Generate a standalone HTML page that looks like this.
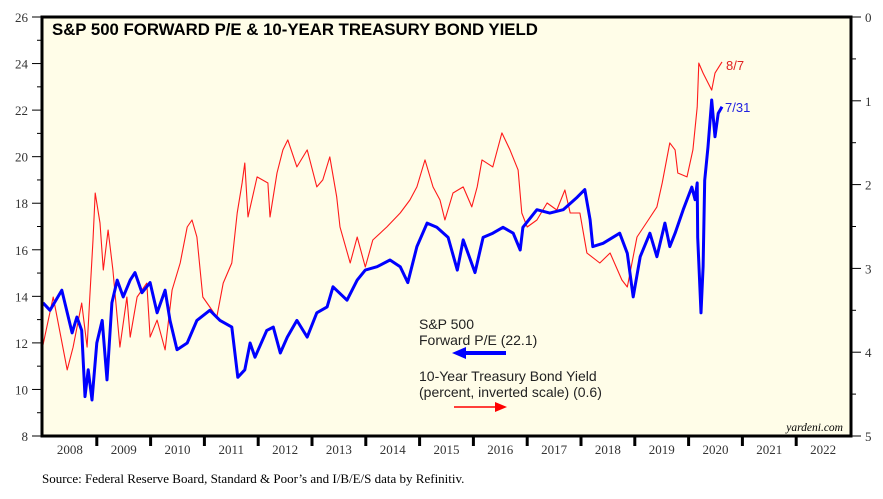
<!DOCTYPE html>
<html><head><meta charset="utf-8">
<style>
body{margin:0;background:#fff;}
svg{display:block;font-family:"Liberation Serif",serif;}
</style></head>
<body>
<svg id="chart" width="883" height="499" viewBox="0 0 883 499" xmlns="http://www.w3.org/2000/svg">
<rect x="42" y="17" width="809" height="419" fill="#fffde8"/>
<g id="axes"></g>
<g id="series"></g>
<rect x="42" y="17" width="809" height="419" fill="none" stroke="#000" stroke-width="3"/>
<text x="52" y="35" font-family="Liberation Sans, sans-serif" font-weight="bold" font-size="16.8">S&amp;P 500 FORWARD P/E &amp; 10-YEAR TREASURY BOND YIELD</text>
<text x="726" y="70" font-family="Liberation Sans, sans-serif" font-size="13" fill="#e02020">8/7</text>
<text x="725" y="112" font-family="Liberation Sans, sans-serif" font-size="13" fill="#2020e0">7/31</text>
<g font-family="Liberation Sans, sans-serif" font-size="14" fill="#222">
<text x="419" y="329">S&amp;P 500</text>
<text x="419" y="345">Forward P/E (22.1)</text>
<line x1="463" y1="353" x2="506" y2="353" stroke="#0000ff" stroke-width="4"/>
<polygon points="452,353 466,347 466,359" fill="#0000ff"/>
<text x="419" y="381">10-Year Treasury Bond Yield</text>
<text x="419" y="397">(percent, inverted scale) (0.6)</text>
<line x1="454" y1="407" x2="497" y2="407" stroke="#ff0000" stroke-width="1.5"/>
<polygon points="507,407 495,402 495,412" fill="#ff0000"/>
</g>
<text x="843" y="431" text-anchor="end" font-style="italic" font-size="11.5">yardeni.com</text>
<text x="42" y="483" font-size="13">Source: Federal Reserve Board, Standard &amp; Poor’s and I/B/E/S data by Refinitiv.</text>
</svg>
<script>
const peDates=[2008.00,2008.19,2008.45,2008.56,2008.72,2008.82,2008.87,2008.93,2008.97,2009.06,2009.12,2009.21,2009.30,2009.43,2009.56,2009.62,2009.75,2009.93,2009.99,2010.12,2010.27,2010.40,2010.55,2010.68,2010.77,2010.86,2010.97,2011.10,2011.23,2011.35,2011.51,2011.61,2011.70,2011.75,2011.81,2011.98,2012.18,2012.22,2012.35,2012.46,2012.55,2012.72,2012.91,2013.09,2013.20,2013.33,2013.46,2013.52,2013.71,2013.84,2013.99,2014.13,2014.39,2014.64,2014.82,2014.95,2015.10,2015.25,2015.38,2015.47,2015.62,2015.81,2015.97,2016.07,2016.16,2016.36,2016.53,2016.68,2016.83,2016.90,2017.00,2017.18,2017.37,2017.55,2017.70,2017.80,2017.98,2018.11,2018.35,2018.54,2018.76,2018.86,2019.04,2019.25,2019.41,2019.51,2019.65,2019.75,2019.80,2019.97,2020.08,2020.16,2020.19,2020.27,2020.43,2020.49,2020.62];
const peValues=[11.91,13.97,10.84,11.82,13.71,11.82,13.97,16.42,18.44,17.15,15.13,16.85,15.13,11.82,13.97,12.25,13.97,14.57,12.25,12.98,11.70,14.27,15.43,16.98,17.28,16.55,13.97,13.54,13.11,14.57,15.43,17.58,18.87,19.73,17.41,19.13,18.87,17.41,19.30,20.29,20.72,19.56,20.29,18.70,19.00,19.99,18.27,16.98,15.43,16.55,15.26,16.42,16.98,17.58,18.14,18.70,19.86,18.70,18.14,17.28,18.44,18.70,17.84,18.70,19.86,19.56,21.02,20.29,19.43,17.58,16.98,17.28,18.01,17.71,18.57,17.58,17.58,15.86,15.43,15.86,14.70,14.40,16.55,17.28,17.84,18.87,20.59,20.29,19.30,19.13,20.29,22.13,24.02,23.59,22.86,23.59,24.07];
const yieldDates=[2008.00,2008.13,2008.35,2008.54,2008.63,2008.72,2008.78,2008.84,2008.91,2009.00,2009.10,2009.19,2009.28,2009.38,2009.49,2009.62,2009.71,2009.84,2009.99,2010.12,2010.27,2010.36,2010.49,2010.68,2010.86,2011.10,2011.29,2011.51,2011.62,2011.75,2011.85,2011.94,2012.16,2012.28,2012.41,2012.54,2012.72,2012.91,2013.09,2013.28,2013.39,2013.65,2013.84,2013.99,2014.21,2014.45,2014.64,2014.78,2014.95,2015.14,2015.32,2015.53,2015.70,2015.81,2016.03,2016.18,2016.36,2016.55,2016.74,2016.87,2016.92,2017.18,2017.42,2017.67,2017.93,2018.07,2018.17,2018.22,2018.41,2018.72,2018.86,2018.97,2019.10,2019.28,2019.41,2019.56,2019.65,2019.75,2019.90,2020.06,2020.12,2020.16,2020.17,2020.23,2020.27,2020.30,2020.36,2020.43,2020.49,2020.55,2020.62];
const yieldValues=[3.41,3.50,3.26,3.77,3.58,3.74,4.53,4.21,4.57,3.89,3.62,4.33,3.41,3.14,3.34,3.14,3.05,3.29,3.17,3.53,3.26,3.62,3.97,3.89,3.62,3.50,3.62,3.70,4.30,4.21,3.89,4.06,3.74,3.70,4.01,3.82,3.62,3.82,3.53,3.46,3.22,3.38,3.14,3.02,2.98,2.90,2.98,3.17,2.74,2.46,2.51,2.63,3.02,2.66,3.05,2.63,2.58,2.51,2.58,2.78,2.51,2.30,2.34,2.30,2.15,2.06,2.42,2.74,2.70,2.58,2.82,3.34,2.86,2.58,2.86,2.46,2.74,2.58,2.30,2.03,2.18,1.98,2.63,3.53,2.98,1.95,1.55,0.99,1.43,1.15,1.07];
const leftTicks=[8,10,12,14,16,18,20,22,24,26];
const rightTicks=[0,1,2,3,4,5];
const yearLabels=[2008,2009,2010,2011,2012,2013,2014,2015,2016,2017,2018,2019,2020,2021,2022];

const NS="http://www.w3.org/2000/svg";
const X0=42,X1=851,Y0=17,Y1=436;
const xScale=t=>43+(t-2008)*53.8;
const yLeft=v=>Y1-(v-8)*(Y1-Y0)/18;
const yRight=r=>Y0+r*(Y1-Y0)/5;
function mk(tag,attrs,parent){const e=document.createElementNS(NS,tag);for(const k in attrs)e.setAttribute(k,attrs[k]);parent.appendChild(e);return e;}
const axes=document.getElementById('axes');
const series=document.getElementById('series');

for(let v=8;v<=26;v++){
  const y=yLeft(v);const major=leftTicks.includes(v);
  const l=mk('line',{x1:major?X0-10:X0-5,x2:X0,y1:y,y2:y,stroke:'#000','stroke-width':1},axes);
  
  
}
leftTicks.forEach(v=>{
  const t=mk('text',{x:X0-14,y:yLeft(v)+5,'text-anchor':'end','font-size':13,fill:'#333'},axes);
  t.textContent=v;
  
  
});
for(let r=0;r<=5;r+=0.5){
  const y=yRight(r);const major=Number.isInteger(r);
  const l=mk('line',{x1:X1,x2:major?X1+10:X1+5,y1:y,y2:y,stroke:'#000','stroke-width':1},axes);
  
  
}
rightTicks.forEach(r=>{
  const t=mk('text',{x:X1+14,y:yRight(r)+5,'font-size':13,fill:'#333'},axes);
  t.textContent=r;
  
  
});
yearLabels.forEach(yr=>{
  const x=xScale(yr);
  if(yr>2008){
    const l=mk('line',{x1:x,x2:x,y1:Y1,y2:Y1+10,stroke:'#000','stroke-width':3},axes);
    
    
  }
  const t=mk('text',{x:x+26.9,y:Y1+18,'text-anchor':'middle','font-size':13,fill:'#333'},axes);
  t.textContent=yr;
  
  
});

const pePts=peDates.map((d,i)=>xScale(d).toFixed(1)+','+yLeft(peValues[i]).toFixed(1)).join(' ');
const pe=mk('polyline',{points:pePts,fill:'none',stroke:'#ff1a1a','stroke-width':1.1,'stroke-linejoin':'round'},series);


const yPts=yieldDates.map((d,i)=>xScale(d).toFixed(1)+','+yRight(yieldValues[i]).toFixed(1)).join(' ');
const yl=mk('polyline',{points:yPts,fill:'none',stroke:'#0000ff','stroke-width':3,'stroke-linejoin':'round'},series);


</script>
</body></html>
